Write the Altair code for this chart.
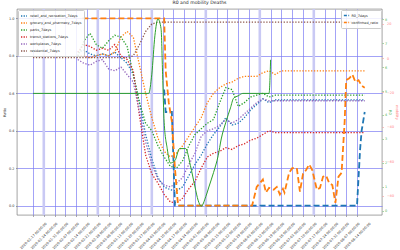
import altair as alt
import pandas as pd

BASE = pd.Timestamp("2020-01-17")

# ---------------- data ----------------
mob_dates = ["2020-02-15", "2020-02-19", "2020-02-23", "2020-02-27", "2020-03-02", "2020-03-06",
             "2020-03-10", "2020-03-14", "2020-03-18", "2020-03-22", "2020-03-26", "2020-03-30",
             "2020-04-03", "2020-04-07", "2020-04-11", "2020-04-15", "2020-04-19", "2020-04-23",
             "2020-04-27", "2020-05-01", "2020-05-05", "2020-05-09", "2020-05-13", "2020-05-17",
             "2020-05-21", "2020-05-25", "2020-05-29", "2020-06-02", "2020-06-06", "2020-06-10",
             "2020-06-14", "2020-06-18", "2020-06-22", "2020-06-26", "2020-08-19"]

retail = [0.82, 0.83, 0.81, 0.80, 0.81, 0.80, 0.82, 0.79, 0.76, 0.70, 0.55, 0.38, 0.25, 0.15, 0.10,
          0.085, 0.08, 0.10, 0.16, 0.22, 0.27, 0.33, 0.38, 0.42, 0.47, 0.43, 0.44, 0.47, 0.51, 0.54,
          0.57, 0.55, 0.565, 0.565, 0.565]
grocery = [0.80, 0.80, 0.79, 0.80, 0.81, 0.80, 0.82, 0.90, 0.93, 0.90, 0.75, 0.60, 0.47, 0.36, 0.29,
           0.26, 0.28, 0.32, 0.37, 0.42, 0.47, 0.55, 0.60, 0.63, 0.65, 0.66, 0.68, 0.69, 0.69, 0.69,
           0.71, 0.72, 0.70, 0.72, 0.72]
parks = [0.80, 0.88, 0.92, 0.86, 0.84, 0.88, 0.91, 0.90, 0.85, 0.70, 0.55, 0.44, 0.40, 0.32, 0.26,
         0.21, 0.20, 0.24, 0.32, 0.38, 0.41, 0.44, 0.46, 0.55, 0.63, 0.62, 0.53, 0.55, 0.58, 0.59,
         0.60, 0.58, 0.59, 0.59, 0.59]
transit = [0.82, 0.86, 0.85, 0.83, 0.84, 0.83, 0.86, 0.80, 0.78, 0.72, 0.48, 0.27, 0.17, 0.12, 0.06,
           0.02, 0.015, 0.04, 0.09, 0.13, 0.20, 0.26, 0.28, 0.29, 0.31, 0.30, 0.32, 0.33, 0.35, 0.36,
           0.38, 0.40, 0.39, 0.39, 0.39]
workplaces = [0.78, 0.76, 0.75, 0.77, 0.78, 0.73, 0.72, 0.74, 0.70, 0.66, 0.50, 0.34, 0.22, 0.14, 0.11,
              0.10, 0.12, 0.15, 0.22, 0.28, 0.37, 0.40, 0.41, 0.43, 0.46, 0.44, 0.46, 0.49, 0.52, 0.55,
              0.57, 0.56, 0.56, 0.56, 0.56]

res_dates = ["2020-01-17", "2020-03-18", "2020-03-22", "2020-03-26", "2020-03-30", "2020-04-03",
             "2020-04-07", "2020-08-19"]
residential = [0.79, 0.79, 0.80, 0.86, 0.93, 0.97, 0.98, 0.98]

mob_names = ["retail_and_recreation_7days", "grocery_and_pharmacy_7days", "parks_7days",
             "transit_stations_7days", "workplaces_7days", "residential_7days"]
mob_colors = ["#1f77b4", "#ff7f0e", "#2ca02c", "#d62728", "#9467bd", "#8c564b"]

r0w_dates = ["2020-04-11", "2020-04-12", "2020-04-16", "2020-04-18", "2020-08-14", "2020-08-16",
             "2020-08-17", "2020-08-19"]
r0w_vals = [0.62, 0.50, 0.50, 0.0, 0.0, 0.30, 0.40, 0.50]

conf_dates = ["2020-02-18", "2020-04-11", "2020-04-12", "2020-04-14", "2020-04-16", "2020-04-18",
              "2020-04-20", "2020-06-07", "2020-06-10", "2020-06-12", "2020-06-14", "2020-06-16",
              "2020-06-18", "2020-06-21", "2020-06-23", "2020-06-25", "2020-06-27", "2020-06-28",
              "2020-07-01", "2020-07-03", "2020-07-06", "2020-07-08", "2020-07-10", "2020-07-12",
              "2020-07-14", "2020-07-16", "2020-07-19", "2020-07-21", "2020-07-23", "2020-07-25",
              "2020-07-27", "2020-07-29", "2020-07-31", "2020-08-02", "2020-08-04", "2020-08-06",
              "2020-08-07", "2020-08-09", "2020-08-11", "2020-08-13", "2020-08-15", "2020-08-17",
              "2020-08-19"]
conf_vals = [1.0, 1.0, 0.72, 0.55, 0.45, 0.20, 0.0, 0.0, 0.10, 0.12, 0.14, 0.07, 0.095, 0.085, 0.10,
             0.06, 0.09, 0.07, 0.175, 0.20, 0.20, 0.075, 0.17, 0.19, 0.22, 0.19, 0.085, 0.095, 0.155,
             0.16, 0.12, 0.11, 0.015, 0.155, 0.175, 0.45, 0.67, 0.68, 0.70, 0.66, 0.67, 0.64, 0.63]

r0_dates = ["2020-01-17", "2020-04-01", "2020-04-03", "2020-04-05", "2020-04-07", "2020-04-09",
            "2020-04-10", "2020-04-11", "2020-04-13", "2020-04-15", "2020-04-18", "2020-04-21",
            "2020-04-25", "2020-04-28", "2020-05-01", "2020-05-03", "2020-05-05", "2020-05-08",
            "2020-05-10", "2020-05-13", "2020-05-16", "2020-05-18", "2020-05-21", "2020-05-24",
            "2020-05-26", "2020-05-29", "2020-06-01", "2020-06-18", "2020-06-19"]
r0_vals = [4.9, 4.9, 5.7, 7.3, 8.0, 7.6, 5.7, 3.7, 2.6, 2.0, 2.1, 2.6, 2.6, 1.9, 1.0, 0.45, 0.2, 0.6,
           1.0, 1.6, 2.3, 3.0, 3.7, 4.3, 4.7, 4.8, 4.9, 4.9, 6.3]

band_dates = ["2020-01-24", "2020-02-28", "2020-04-03", "2020-05-08", "2020-06-12", "2020-07-17"]

tick_days = list(range(0, 211, 7))
green_ticks = [0, 1, 2, 3, 4, 5, 6, 7, 8]
pink_ticks = [-80, -60, -40, -20, 0, 20]


def to_days(ds):
    return [(pd.Timestamp(d) - BASE).days for d in ds]


rows = []
for name, vals in zip(mob_names[:5], [retail, grocery, parks, transit, workplaces]):
    for d, v in zip(to_days(mob_dates), vals):
        rows.append({"day": d, "value": v, "series": name})
for d, v in zip(to_days(res_dates), residential):
    rows.append({"day": d, "value": v, "series": mob_names[5]})
mob_df = pd.DataFrame(rows)

rows = []
for d, v in zip(to_days(r0w_dates), r0w_vals):
    rows.append({"day": d, "value": v, "series": "R0_7days"})
for d, v in zip(to_days(conf_dates), conf_vals):
    rows.append({"day": d, "value": v, "series": "confirmed_ratio"})
dash_df = pd.DataFrame(rows)

r0_df = pd.DataFrame({"day": to_days(r0_dates), "r0": r0_vals})
band_df = pd.DataFrame({"day": to_days(band_dates)})
pink_df = pd.DataFrame({"day": [0, 0], "p": [-91.3, 28.5]})

FONT = "DejaVu Sans"
GRID = "#7b7bf3"
GREEN_LBL = "#4caf50"
PINK = "#ff8080"

xaxis = alt.Axis(values=tick_days, labelExpr="utcFormat(datum.value*86400000+1579219200000, '%Y-%m-%d %H:%M:%S')",
                 labelAngle=-45, labelAlign="center", labelBaseline="middle", labelPadding=19,
                 labelOverlap=False, labelFlush=False, labelBound=False, title=None,
                 grid=True, gridColor=GRID, gridWidth=0.7, domain=False, tickSize=1.5)
X = alt.X("day:Q", scale=alt.Scale(domain=[-10.37, 226.2], nice=False, zero=False), axis=xaxis)

yaxis = alt.Axis(values=[0, 0.2, 0.4, 0.6, 0.8, 1.0], format=".1f", title="Ratio", grid=True,
                 gridColor=GRID, gridWidth=0.7, domain=False, tickSize=1.5, labelPadding=1.5,
                 titlePadding=2)
Y = alt.Y("value:Q", scale=alt.Scale(domain=[-0.05, 1.05], nice=False, zero=False), axis=yaxis)

bands = alt.Chart(band_df).mark_rule(color="#c9c9f4", strokeWidth=2.6).encode(x=X)

mob = alt.Chart(mob_df).mark_line(strokeDash=[1.3, 1.6], strokeWidth=1.3).encode(
    x=X, y=Y,
    color=alt.Color("series:N", scale=alt.Scale(domain=mob_names, range=mob_colors),
                    legend=alt.Legend(title=None, orient="top-left", offset=1, symbolType="stroke",
                                      symbolSize=36, symbolStrokeWidth=1.3, symbolDash=[1.3, 1.3],
                                      rowPadding=0, padding=2, labelOffset=2,
                                      fillColor="rgba(255,255,255,0.85)", strokeColor="#cccccc",
                                      cornerRadius=1)))

dash = alt.Chart(dash_df).mark_line(strokeDash=[6, 3], strokeWidth=1.8).encode(
    x=X, y=Y,
    color=alt.Color("series:N", scale=alt.Scale(domain=["R0_7days", "confirmed_ratio"],
                                                range=["#1f77b4", "#ff7f0e"]),
                    legend=alt.Legend(title=None, orient="top-right", offset=1, symbolType="stroke",
                                      symbolSize=28, symbolStrokeWidth=1.6, symbolDash=[3, 1.5],
                                      rowPadding=0, padding=2, labelOffset=1.5,
                                      fillColor="rgba(255,255,255,0.85)", strokeColor="#cccccc",
                                      cornerRadius=1)))

inner = alt.layer(bands, mob, dash).resolve_scale(color="independent")

green = alt.Chart(r0_df).mark_line(color="#2ca02c", strokeWidth=1, interpolate="monotone").encode(
    x=X,
    y=alt.Y("r0:Q", scale=alt.Scale(domain=[-0.167, 8.417], nice=False, zero=False),
            axis=alt.Axis(orient="right", values=green_ticks, format="d", title="R0",
                          labelColor=GREEN_LBL, tickColor=GREEN_LBL, titleColor=GREEN_LBL,
                          grid=False, domain=False, tickSize=1.5, labelPadding=1, titlePadding=1)))

pink = alt.Chart(pink_df).mark_point(opacity=0).encode(
    x=X,
    y=alt.Y("p:Q", scale=alt.Scale(domain=[-91.3, 28.5], nice=False, zero=False),
            axis=alt.Axis(orient="right", values=pink_ticks, format="d", title="mobility",
                          labelColor=PINK, tickColor=PINK, titleColor=PINK, grid=False,
                          domain=False, tickSize=1.5, labelPadding=3, titlePadding=1)))

chart = alt.layer(inner, green, pink).resolve_scale(y="independent", color="independent").properties(
    width=365, height=206,
    padding={"left": 17, "top": 9, "right": 18, "bottom": 35},
    autosize=alt.AutoSizeParams(type="none"),
    title=alt.TitleParams("R0 and mobility Deaths", fontSize=4.6, font=FONT, fontWeight="normal",
                          offset=2, anchor="middle", color="#222"),
).configure_axis(
    labelFont=FONT, titleFont=FONT, labelFontSize=3.4, titleFontSize=3.6, titleFontWeight="normal",
    labelColor="#333", titleColor="#333", tickWidth=0.5, tickColor="#555"
).configure_legend(
    labelFont=FONT, labelFontSize=3.4, labelColor="#222", labelLimit=200
).configure_view(stroke="#666", strokeWidth=0.6)

chart.save("out.html", embed_options={"renderer": "svg", "actions": False})
